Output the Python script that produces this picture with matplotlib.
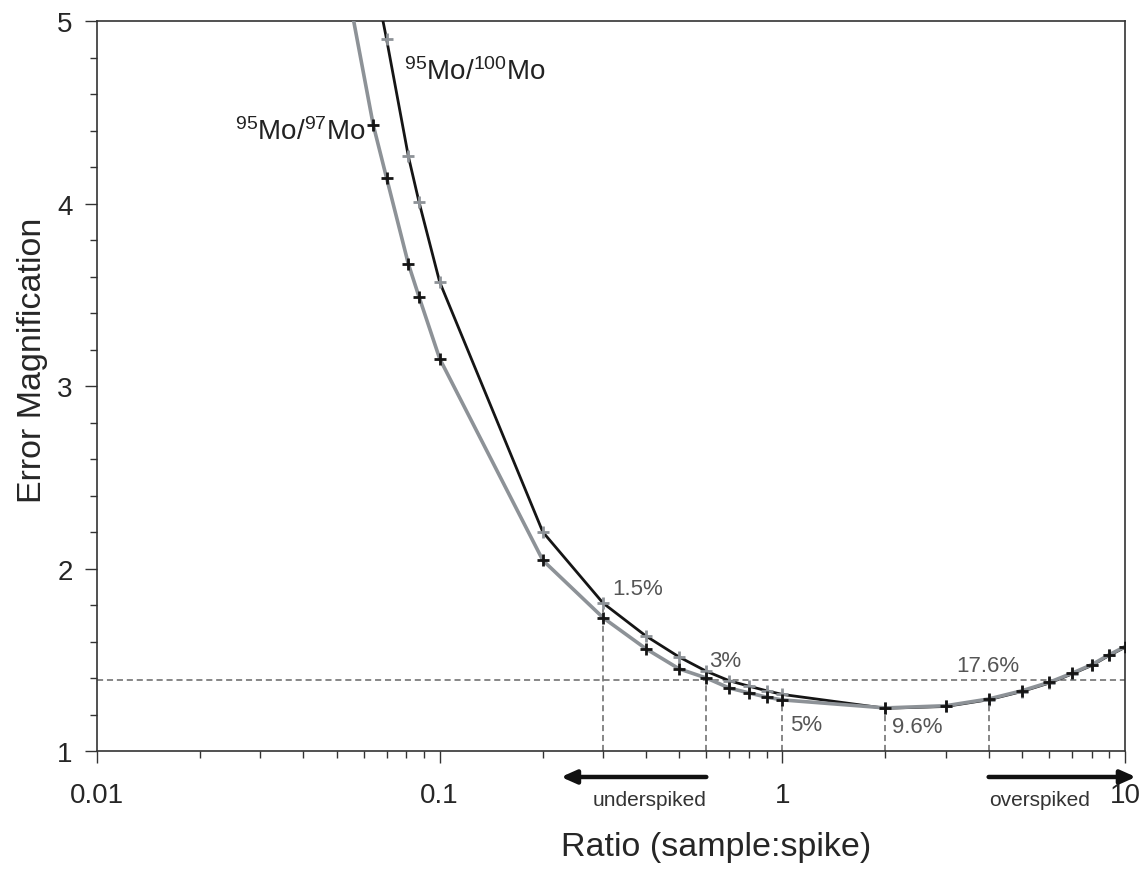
import matplotlib
matplotlib.use("Agg")
import matplotlib.pyplot as plt
from matplotlib.ticker import FixedLocator, LogLocator, NullFormatter, MultipleLocator

plt.rcParams['font.family'] = ['Liberation Sans', 'DejaVu Sans']
plt.rcParams['mathtext.fontset'] = 'custom'
plt.rcParams['mathtext.rm'] = 'Liberation Sans'
plt.rcParams['mathtext.it'] = 'Liberation Sans:italic'

# ---- data ----
ratio_97 = [0.05, 0.064, 0.07, 0.081, 0.087, 0.1, 0.2, 0.3, 0.4, 0.5, 0.6, 0.7, 0.8, 0.9, 1,
            2, 3, 4, 5, 6, 7, 8, 9, 10]
err_95_97 = [5.50, 4.43, 4.14, 3.67, 3.49, 3.15, 2.045, 1.73, 1.56, 1.45, 1.40, 1.345, 1.318, 1.295, 1.28,
             1.236, 1.248, 1.285, 1.33, 1.376, 1.426, 1.473, 1.528, 1.572]

ratio_100 = [0.064, 0.07, 0.081, 0.087, 0.1, 0.2, 0.3, 0.4, 0.5, 0.6, 0.7, 0.8, 0.9, 1,
             2, 3, 4, 5, 6, 7, 8, 9, 10]
err_95_100 = [5.27, 4.90, 4.26, 4.01, 3.57, 2.20, 1.81, 1.63, 1.515, 1.437, 1.385, 1.355, 1.33, 1.31,
              1.234, 1.244, 1.281, 1.326, 1.372, 1.422, 1.469, 1.524, 1.568]

threshold = 1.39
vline_x = [0.3, 0.6, 1, 2, 4]
vline_top = [1.78, 1.40, 1.28, 1.236, 1.285]
pct_labels = ["1.5%", "3%", "5%", "9.6%", "17.6%"]
pct_x = [0.318, 0.611, 1.052, 2.084, 3.21]
pct_y = [1.888, 1.495, 1.143, 1.135, 1.468]

xticks = [0.01, 0.1, 1, 10]
xticklabels = ["0.01", "0.1", "1", "10"]
yticks = [1, 2, 3, 4, 5]

# ---- figure ----
W, H = 1143, 878
fig = plt.figure(figsize=(W / 100, H / 100), dpi=100)
ax = fig.add_axes([97 / W, 1 - 752 / H, (1125 - 97) / W, (752 - 22) / H])

ax.set_xscale('log')
ax.set_xlim(0.01, 10)
ax.set_ylim(1, 5)

black = '#151515'
grey = '#8d9297'

ax.plot(ratio_100, err_95_100, color=black, lw=2.0, marker='+', ms=9, mew=2.0,
        mec=grey, zorder=3)
ax.plot(ratio_97, err_95_97, color=grey, lw=2.6, marker='+', ms=9, mew=2.0,
        mec=black, zorder=4)

ax.axhline(threshold, color='#666666', lw=1.1, ls=(0, (4, 2.5)), zorder=2)
for xv, top in zip(vline_x, vline_top):
    ax.plot([xv, xv], [1, top], color='#666666', lw=1.1, ls=(0, (4, 2.5)), zorder=2)

for lab, xv, yv in zip(pct_labels, pct_x, pct_y):
    ax.text(xv, yv, lab, color='#555555', fontsize=16, ha='left', va='center')

ax.text(0.0787, 4.682, r'$^{95}$Mo/$^{100}$Mo', fontsize=20, color='#222222',
        ha='left', va='baseline')
ax.text(0.0253, 4.353, r'$^{95}$Mo/$^{97}$Mo', fontsize=20, color='#222222',
        ha='left', va='baseline')

# ticks
ax.xaxis.set_major_locator(FixedLocator(xticks))
ax.set_xticklabels(xticklabels)
ax.xaxis.set_minor_locator(LogLocator(base=10, subs=range(2, 10)))
ax.xaxis.set_minor_formatter(NullFormatter())
ax.yaxis.set_major_locator(FixedLocator(yticks))
ax.yaxis.set_minor_locator(MultipleLocator(0.2))
ax.tick_params(which='major', direction='out', length=8.5, width=1.0, color='#333333',
               labelsize=20, labelcolor='#262626')
ax.tick_params(which='minor', direction='out', length=5, width=1.0, color='#333333')
ax.tick_params(axis='x', which='major', pad=13.5)
ax.tick_params(axis='y', which='major', pad=9)
ax.tick_params(top=False, right=False, which='both')

for s in ax.spines.values():
    s.set_color('#333333')
    s.set_linewidth(1.2)

ax.set_ylabel('Error Magnification', fontsize=24.5, color='#262626')
ax.yaxis.label.set_va('center')
ax.yaxis.set_label_coords(-0.063, 0.537)
ax.set_xlabel('Ratio (sample:spike)', fontsize=24.5, color='#262626')
ax.xaxis.label.set_va('center')
ax.xaxis.set_label_coords(0.602, -0.1315)

# under/over-spiked arrows
arrow_y = -0.0356
ax.annotate('', xy=(0.226, arrow_y), xytext=(0.6, arrow_y),
            xycoords=('data', 'axes fraction'), textcoords=('data', 'axes fraction'),
            arrowprops=dict(arrowstyle='-|>,head_length=0.9,head_width=0.4', lw=3.2,
                            color='#111111', shrinkA=0, shrinkB=0),
            annotation_clip=False)
ax.annotate('', xy=(10.76, arrow_y), xytext=(4, arrow_y),
            xycoords=('data', 'axes fraction'), textcoords=('data', 'axes fraction'),
            arrowprops=dict(arrowstyle='-|>,head_length=0.9,head_width=0.4', lw=3.2,
                            color='#111111', shrinkA=0, shrinkB=0),
            annotation_clip=False)
ax.text(0.6, -0.067, 'underspiked', transform=ax.get_xaxis_transform(), ha='right',
        va='center', fontsize=15, color='#333333')
ax.text(4, -0.067, 'overspiked', transform=ax.get_xaxis_transform(), ha='left',
        va='center', fontsize=15, color='#333333')

fig.savefig('out.png', dpi=100)
